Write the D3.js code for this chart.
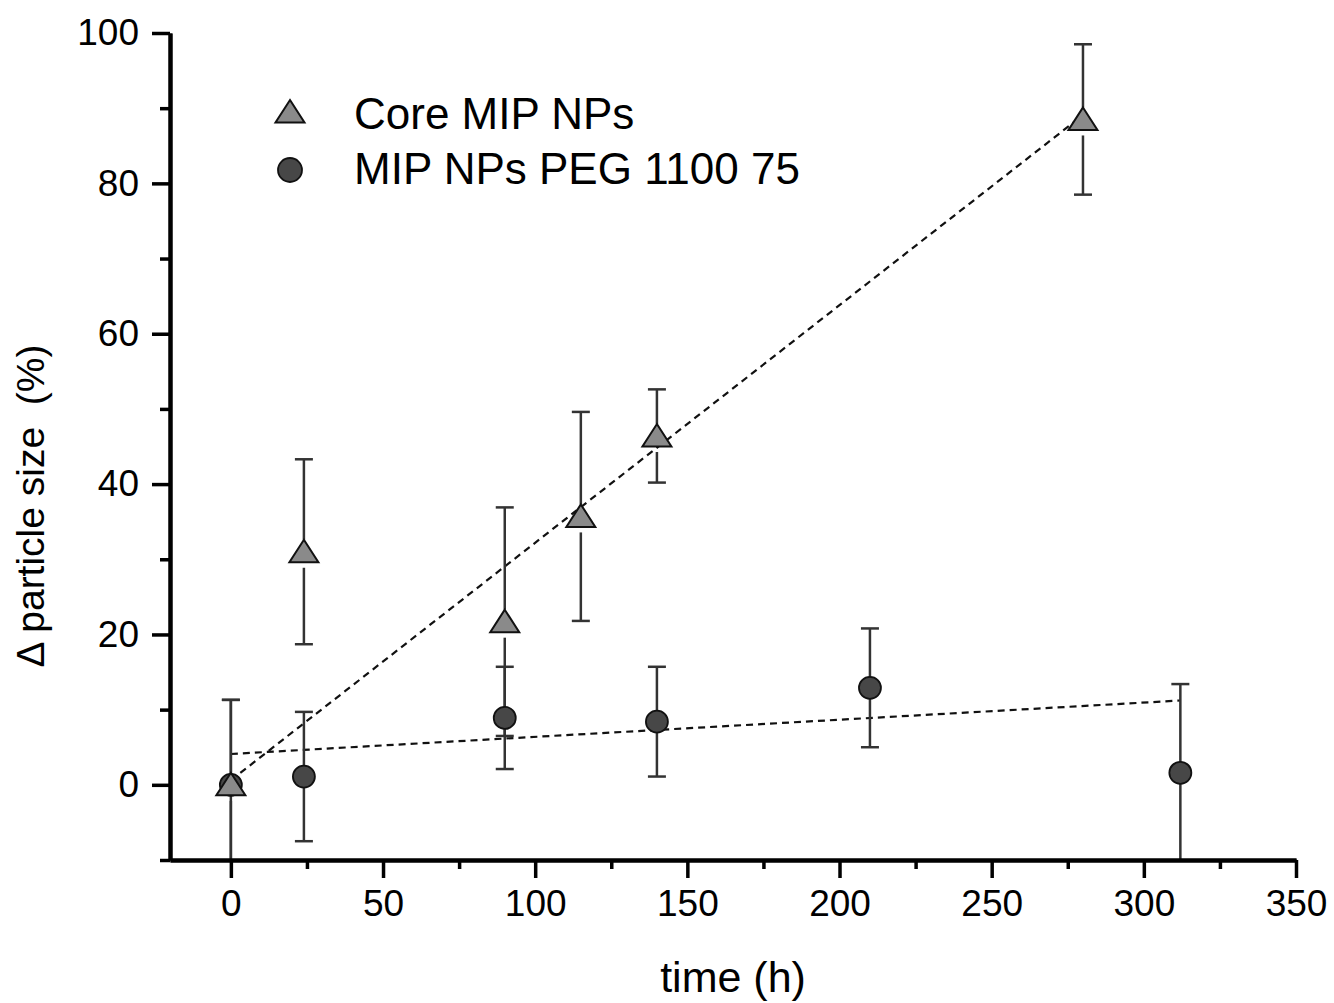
<!DOCTYPE html>
<html lang="en">

<head>
    <meta charset="utf-8">
    <script src="https://d3js.org/d3.v7.min.js"></script>
    <style>
        body { margin: 0; background: #fff; }
        svg text { font-family: "Liberation Sans", Arial, sans-serif; }
    </style>
</head>

<body>
    <div class="chart"></div>

    <script>
        // data
        const coreTime = [0, 24, 90, 115, 140, 280];
        const coreSize = [0, 31, 21.7, 35.7, 46.4, 88.5];
        const coreErr = [11.3, 12.3, 15.2, 13.9, 6.2, 10];

        const pegTime = [0, 24, 90, 140, 210, 312];
        const pegSize = [0, 1.1, 8.9, 8.4, 12.9, 1.6];
        const pegErr = [11.3, 8.6, 6.8, 7.3, 7.9, 11.8];

        // linear fits: [intercept, slope], fitted x range
        const coreFit = [0.6, 0.316];
        const coreFitRange = [0, 280];
        const pegFit = [4.1, 0.0228];
        const pegFitRange = [0, 312];

        const xMajor = [0, 50, 100, 150, 200, 250, 300, 350];
        const xMinor = [25, 75, 125, 175, 225, 275, 325];
        const yMajor = [0, 20, 40, 60, 80, 100];
        const yMinor = [-10, 10, 30, 50, 70, 90];

        const seriesNames = ["Core MIP NPs", "MIP NPs PEG 1100 75"];

        const width = 1334;
        const height = 1003;

        const svg = d3.select(".chart").append("svg")
            .attr("width", width)
            .attr("height", height);

        // scales
        const x = d3.scaleLinear().domain([-20, 350]).range([170, 1296]);
        const y = d3.scaleLinear().domain([-10, 100]).range([860, 33]);

        // clip for data marks
        svg.append("clipPath").attr("id", "plot")
            .append("rect")
            .attr("x", x(-20)).attr("y", y(100) - 30)
            .attr("width", x(350) - x(-20)).attr("height", y(-10) - y(100) + 30);

        const core = coreTime.map((t, i) => ({ t: t, v: coreSize[i], e: coreErr[i] }));
        const peg = pegTime.map((t, i) => ({ t: t, v: pegSize[i], e: pegErr[i] }));

        const triPath = "M0,-12L14.5,10.5L-14.5,10.5Z";

        // fit lines
        const plot = svg.append("g").attr("clip-path", "url(#plot)");

        function fitLine(fit, range) {
            plot.append("line")
                .attr("x1", x(range[0])).attr("y1", y(fit[0] + fit[1] * range[0]))
                .attr("x2", x(range[1])).attr("y2", y(fit[0] + fit[1] * range[1]))
                .attr("stroke", "#111")
                .attr("stroke-width", 2.2)
                .attr("stroke-dasharray", "7,5");
        }
        fitLine(coreFit, coreFitRange);
        fitLine(pegFit, pegFitRange);

        // error bars (gap below triangles like the original)
        function errorBars(data, gapTop, gapBottom) {
            const g = plot.append("g")
                .attr("stroke", "#333")
                .attr("stroke-width", 2.5);
            data.forEach(d => {
                const cx = x(d.t), cy = y(d.v);
                g.append("line")
                    .attr("x1", cx).attr("x2", cx)
                    .attr("y1", y(d.v + d.e)).attr("y2", cy - gapTop);
                g.append("line")
                    .attr("x1", cx).attr("x2", cx)
                    .attr("y1", cy + gapBottom).attr("y2", y(d.v - d.e));
                [d.v + d.e, d.v - d.e].forEach(v => {
                    g.append("line")
                        .attr("x1", cx - 9).attr("x2", cx + 9)
                        .attr("y1", y(v)).attr("y2", y(v));
                });
            });
        }
        errorBars(peg, 11, 11);
        errorBars(core, 12, 16);

        // markers
        svg.append("g").selectAll("circle")
            .data(peg)
            .enter()
            .append("circle")
            .attr("cx", d => x(d.t))
            .attr("cy", d => y(d.v))
            .attr("r", 11)
            .attr("fill", "#474747")
            .attr("stroke", "#111")
            .attr("stroke-width", 1.8);

        svg.append("g").selectAll("path")
            .data(core)
            .enter()
            .append("path")
            .attr("d", triPath)
            .attr("transform", d => `translate(${x(d.t)},${y(d.v)})`)
            .attr("fill", "#8a8a8a")
            .attr("stroke", "#111")
            .attr("stroke-width", 2);

        // axes
        function styleAxis(g) {
            g.select(".domain").style("stroke", "#000").style("stroke-width", "4px");
            g.selectAll(".tick line").style("stroke", "#000").style("stroke-width", "3.5px");
            g.selectAll(".tick text")
                .style("fill", "#000")
                .style("font-size", "37px")
                .style("font-family", "'Liberation Sans', Arial, sans-serif");
        }

        svg.append("g")
            .attr("transform", `translate(0,${y(-10)})`)
            .call(d3.axisBottom(x).tickValues(xMinor).tickSize(9).tickFormat("").tickSizeOuter(0))
            .call(styleAxis);
        svg.append("g")
            .attr("transform", `translate(0,${y(-10)})`)
            .call(d3.axisBottom(x).tickValues(xMajor).tickSize(18).tickPadding(12).tickSizeOuter(0))
            .call(styleAxis);

        svg.append("g")
            .attr("transform", `translate(${x(-20)},0)`)
            .call(d3.axisLeft(y).tickValues(yMinor).tickSize(10).tickFormat("").tickSizeOuter(0))
            .call(styleAxis);
        svg.append("g")
            .attr("transform", `translate(${x(-20)},0)`)
            .call(d3.axisLeft(y).tickValues(yMajor).tickSize(18).tickPadding(13).tickSizeOuter(0))
            .call(styleAxis);

        // axis titles
        svg.append("text")
            .attr("x", 733)
            .attr("y", 992)
            .attr("text-anchor", "middle")
            .style("font-size", "43px")
            .text("time (h)");

        svg.append("text")
            .attr("transform", "translate(44,506) rotate(-90)")
            .attr("text-anchor", "middle")
            .style("font-size", "39px")
            .style("white-space", "pre")
            .text("Δ particle size  (%)");

        // legend
        const legend = svg.append("g");
        legend.append("path")
            .attr("d", triPath)
            .attr("transform", "translate(290,112)")
            .attr("fill", "#8a8a8a")
            .attr("stroke", "#111")
            .attr("stroke-width", 2);
        legend.append("circle")
            .attr("cx", 290).attr("cy", 170).attr("r", 12)
            .attr("fill", "#474747")
            .attr("stroke", "#111")
            .attr("stroke-width", 1.8);
        legend.selectAll("text")
            .data(seriesNames)
            .enter()
            .append("text")
            .attr("x", 354)
            .attr("y", (d, i) => 129 + i * 55)
            .style("font-size", "44px")
            .text(d => d);
    </script>
</body>

</html>
